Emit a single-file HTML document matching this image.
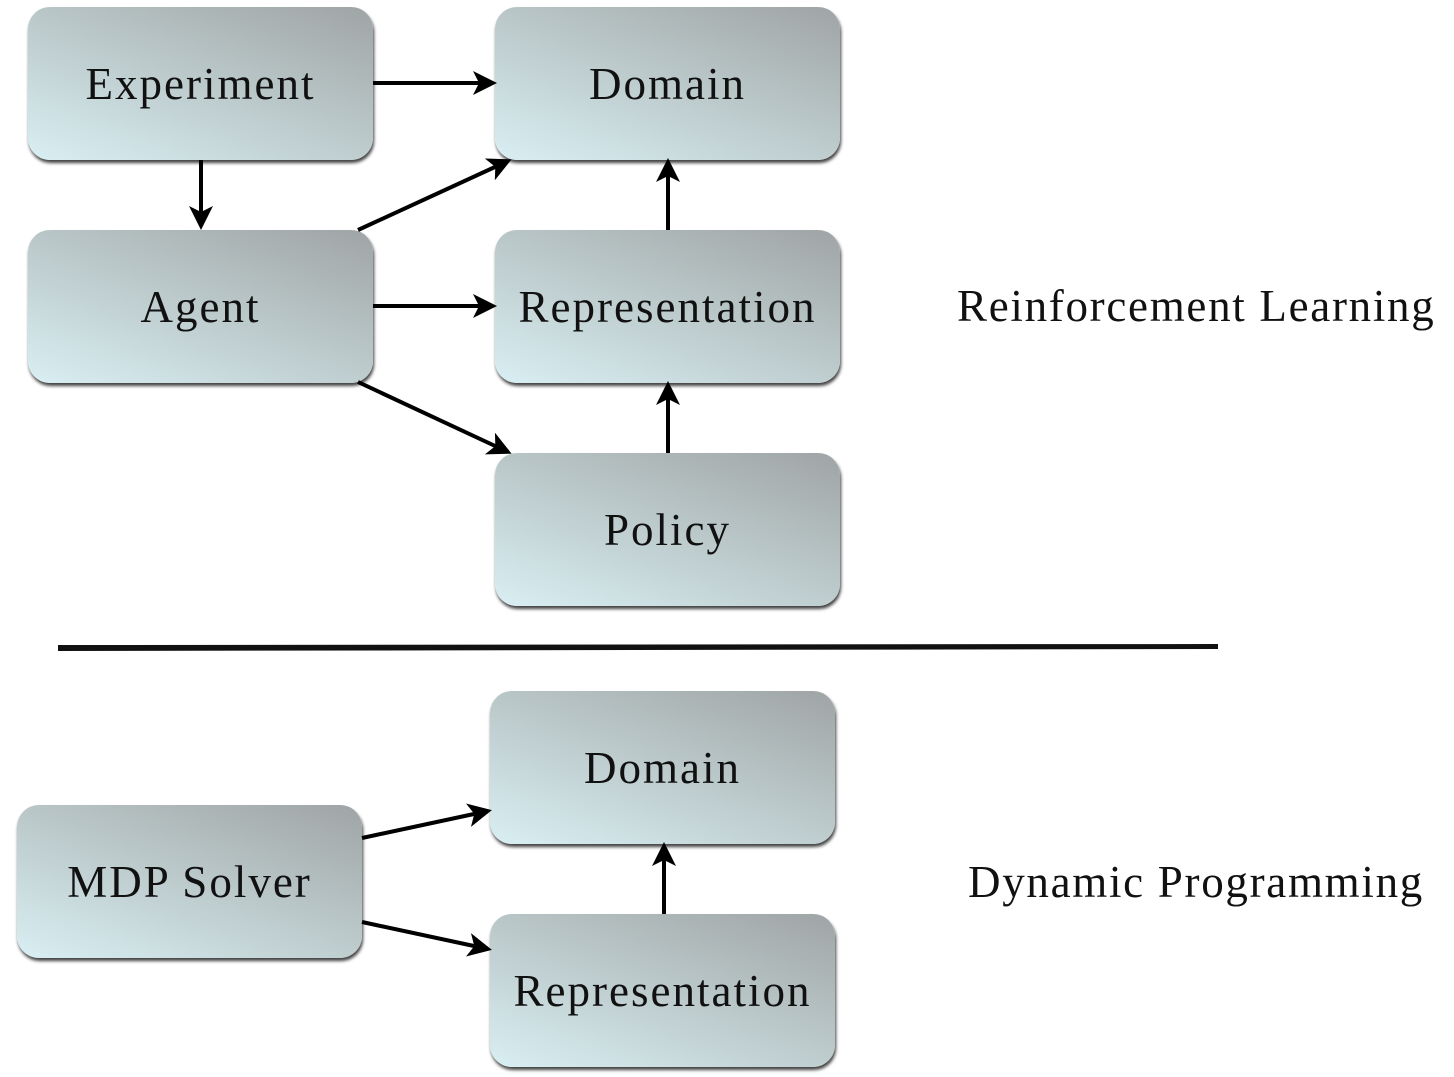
<!DOCTYPE html>
<html><head><style>
body{margin:0;width:1454px;height:1077px;background:#fff;position:relative;overflow:hidden;font-family:"Liberation Serif",serif}
.b{position:absolute;width:345px;height:153px;border-radius:22px;background:linear-gradient(200deg,#9fa4a5 0%,#b9c6c7 45%,#d9eff3 100%);box-shadow:1px 3px 3px rgba(0,0,0,.75);display:flex;align-items:center;justify-content:center;font-size:45px;letter-spacing:2px;color:#111}
.l{position:absolute;font-size:45px;letter-spacing:1.7px;color:#111;white-space:nowrap}
svg{position:absolute;left:0;top:0}
</style></head><body>
<div class="b" style="left:28px;top:7px">Experiment</div>
<div class="b" style="left:495px;top:7px">Domain</div>
<div class="b" style="left:28px;top:230px">Agent</div>
<div class="b" style="left:495px;top:230px">Representation</div>
<div class="b" style="left:495px;top:453px">Policy</div>
<div class="b" style="left:490px;top:691px">Domain</div>
<div class="b" style="left:17px;top:805px">MDP Solver</div>
<div class="b" style="left:490px;top:914px">Representation</div>
<div class="l" style="left:957px;top:280px">Reinforcement Learning</div>
<div class="l" style="left:968px;top:856px">Dynamic Programming</div>
<svg width="1454" height="1077">
<defs><marker id="a" markerWidth="6" markerHeight="6" refX="5" refY="3" orient="auto" markerUnits="strokeWidth"><path d="M0,0 L6,3 L0,6 L1.5,3 z" fill="#000"/></marker></defs>
<g stroke="#000" stroke-width="4" fill="none" marker-end="url(#a)">
<line x1="373" y1="83" x2="493" y2="83"/>
<line x1="201" y1="160" x2="201" y2="226"/>
<line x1="358" y1="230" x2="508" y2="161"/>
<line x1="373" y1="306" x2="493" y2="306"/>
<line x1="358" y1="382" x2="508" y2="452"/>
<line x1="668" y1="230" x2="668" y2="162"/>
<line x1="668" y1="453" x2="668" y2="385"/>
<line x1="362" y1="838" x2="488" y2="811"/>
<line x1="362" y1="922" x2="488" y2="949"/>
<line x1="664" y1="914" x2="664" y2="846"/>
</g>
<path d="M58,645 L1218,644 L1218,649 L58,651 z" fill="#111"/>
</svg>
</body></html>
